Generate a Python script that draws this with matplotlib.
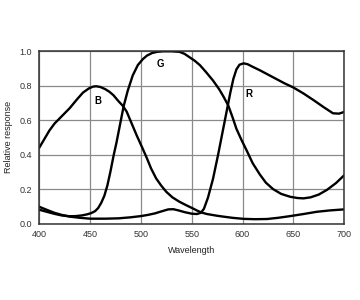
import matplotlib
matplotlib.use("Agg")
import matplotlib.pyplot as plt

plt.rcParams['font.family'] = ['Liberation Sans', 'DejaVu Sans']

# values
b_nm = [400, 405, 410, 415, 420, 425, 430, 437, 443, 449, 453, 456, 460, 465, 469,
        473, 478, 482, 486, 491, 496, 501, 506, 510, 515, 520, 525, 531, 538, 545,
        551, 556, 560, 565, 570, 575, 581, 590, 601, 612, 624, 635, 647, 660, 673,
        686, 700]
b_resp = [0.44, 0.49, 0.54, 0.58, 0.61, 0.64, 0.67, 0.72, 0.76, 0.785, 0.795, 0.797,
          0.793, 0.78, 0.765, 0.745, 0.71, 0.685, 0.65, 0.58, 0.51, 0.445, 0.378,
          0.32, 0.262, 0.22, 0.184, 0.152, 0.126, 0.105, 0.088, 0.073, 0.063, 0.055,
          0.05, 0.045, 0.04, 0.033, 0.027, 0.025, 0.026, 0.033, 0.043, 0.055, 0.068,
          0.076, 0.082]

g_nm = [400, 408, 415, 422, 430, 436, 442, 447, 451, 455, 458, 461, 464, 467, 470,
        473, 476, 479, 483, 487, 492, 497, 502, 506, 511, 516, 522, 530, 538, 543,
        548, 553, 558, 564, 571, 577, 581, 586, 590, 594, 599, 604, 610, 617, 623,
        630, 638, 647, 654, 660, 667, 675, 683, 692, 700]
g_resp = [0.08, 0.067, 0.056, 0.047, 0.042, 0.043, 0.047, 0.053, 0.06, 0.072, 0.09,
          0.12, 0.16, 0.22, 0.30, 0.39, 0.47, 0.56, 0.68, 0.77, 0.86, 0.92, 0.955,
          0.975, 0.99, 0.997, 1.0, 1.0, 0.997, 0.985, 0.965, 0.945, 0.92, 0.88, 0.83,
          0.78, 0.74, 0.685, 0.62, 0.55, 0.485, 0.425, 0.35, 0.285, 0.237, 0.20, 0.172,
          0.155, 0.148, 0.146, 0.152, 0.168, 0.195, 0.235, 0.28]

r_nm = [400, 408, 415, 422, 430, 440, 450, 465, 478, 490, 500, 507, 514, 520, 527,
        532, 537, 543, 550, 555, 559, 562, 566, 571, 576, 581, 585, 588, 591, 594,
        597, 601, 605, 610, 617, 625, 633, 641, 650, 660, 670, 680, 689, 695, 700]
r_resp = [0.097, 0.078, 0.062, 0.05, 0.04, 0.033, 0.028, 0.028, 0.03, 0.036, 0.043,
          0.05, 0.059, 0.07, 0.082, 0.083, 0.076, 0.066, 0.057, 0.055, 0.062, 0.085,
          0.15, 0.26, 0.40, 0.55, 0.67, 0.76, 0.84, 0.895, 0.922, 0.93, 0.925, 0.91,
          0.89, 0.865, 0.84, 0.815, 0.79, 0.755, 0.716, 0.675, 0.64, 0.638, 0.648]

curve_labels = ["B", "G", "R"]
label_nm = [458, 519, 606]
label_resp = [0.71, 0.925, 0.75]

xticks = [400, 450, 500, 550, 600, 650, 700]
yticks = [0.0, 0.2, 0.4, 0.6, 0.8, 1.0]

fig = plt.figure(figsize=(3.6, 3.0), dpi=100)
ax = fig.add_axes([0.109, 0.255, 0.847, 0.574])

for xs, ys in [(b_nm, b_resp), (g_nm, g_resp), (r_nm, r_resp)]:
    ax.plot(xs, ys, color="black", lw=1.7, solid_joinstyle="round")

for t, xx, yy in zip(curve_labels, label_nm, label_resp):
    ax.text(xx, yy, t, fontsize=7, fontweight="bold", ha="center", va="center")

ax.set_xlim(400, 700)
ax.set_ylim(0, 1.0)
ax.set_xticks(xticks)
ax.set_yticks(yticks)
ax.set_yticklabels([f"{v:.1f}" for v in yticks])
ax.tick_params(length=0, labelsize=6.5, colors="#333333", pad=5)
ax.grid(True, color="#8a8a8a", lw=0.9)
ax.set_axisbelow(True)
for s in ax.spines.values():
    s.set_color("#333333")
    s.set_linewidth(1.1)

ax.set_xlabel("Wavelength", fontsize=6.5, color="#222222", labelpad=5)
ax.set_ylabel("Relative response", fontsize=6.5, color="#222222", labelpad=5)

fig.savefig("out.png", dpi=100)
